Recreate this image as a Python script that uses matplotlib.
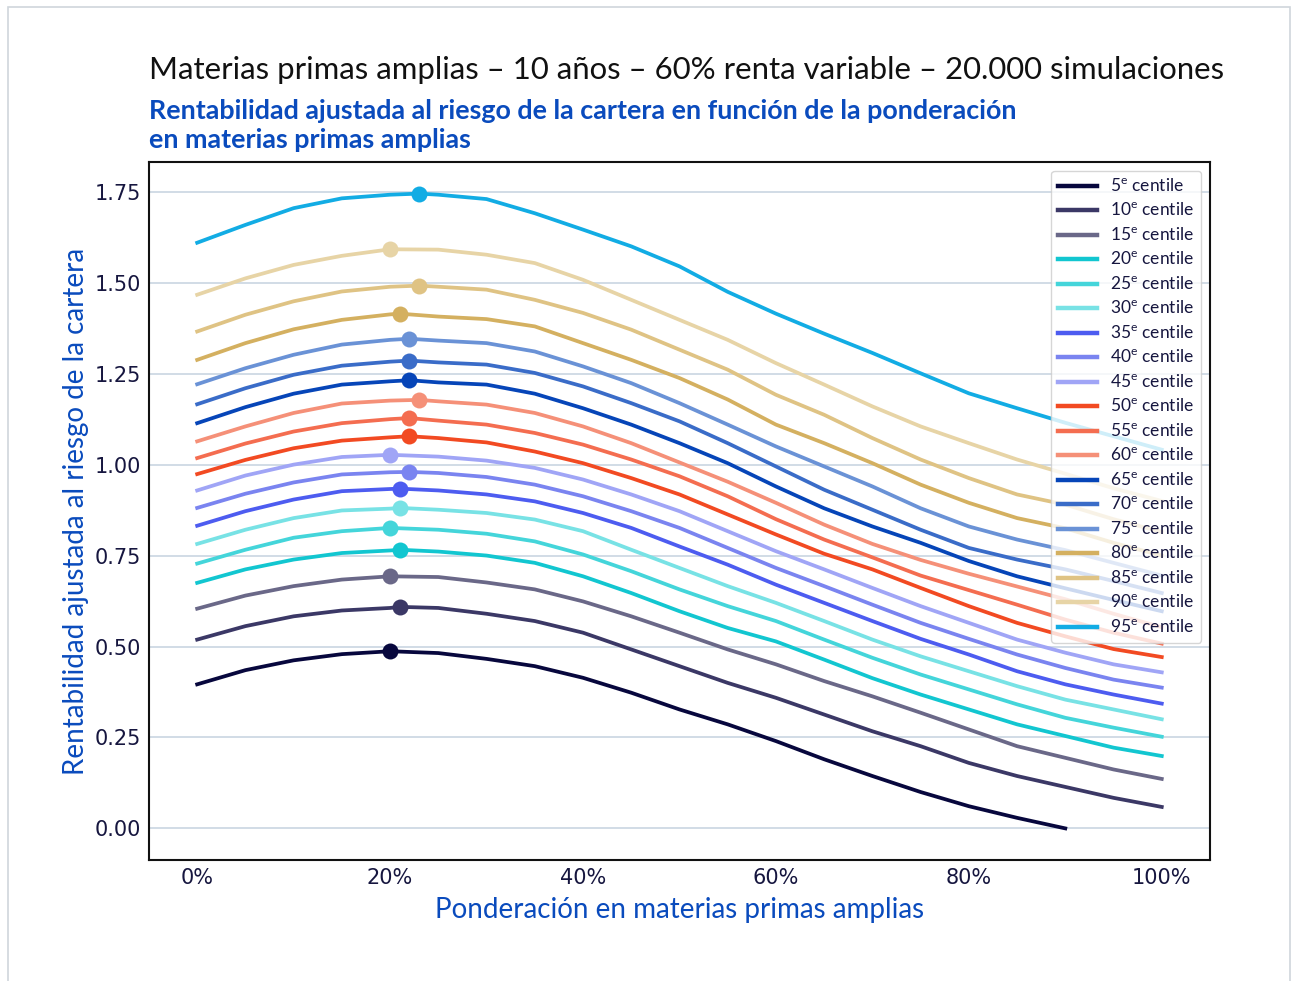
import numpy as np
import matplotlib
matplotlib.use("Agg")
import matplotlib.pyplot as plt
from matplotlib.patches import Rectangle
from matplotlib.ticker import FuncFormatter

plt.rcParams['font.family'] = ['Lato', 'DejaVu Sans']
plt.rcParams['mathtext.fontset'] = 'custom'
plt.rcParams['mathtext.rm'] = 'Lato'

# weight in broad commodities (%)
weights = [0, 5, 10, 15, 20, 25, 30, 35, 40, 45, 50, 55, 60, 65, 70, 75, 80, 85, 90, 95, 100]

centiles = [5, 10, 15, 20, 25, 30, 35, 40, 45, 50, 55, 60, 65, 70, 75, 80, 85, 90, 95]

colors = ["#07073d", "#3b3866", "#6a6888", "#12c6d0", "#44d5da", "#78e2e5",
          "#4d5cf0", "#7a84f0", "#a0a5f6", "#f24a22", "#f46d50", "#f59078",
          "#0645b8", "#3a6cc8", "#6a92d6", "#d4b060", "#dfc384", "#e7d4a6",
          "#12ace4"]

# risk-adjusted return per centile, one value per weight (5th centile stops at 90%)
values = [
    [0.396, 0.435, 0.462, 0.479, 0.487, 0.482, 0.466, 0.446, 0.414, 0.373, 0.327, 0.286, 0.240, 0.190, 0.144, 0.100, 0.061, 0.029, 0.000],
    [0.519, 0.556, 0.583, 0.599, 0.606, 0.606, 0.590, 0.570, 0.538, 0.492, 0.446, 0.400, 0.359, 0.313, 0.267, 0.226, 0.180, 0.144, 0.114, 0.084, 0.059],
    [0.604, 0.640, 0.666, 0.684, 0.693, 0.691, 0.676, 0.657, 0.624, 0.583, 0.538, 0.492, 0.451, 0.405, 0.363, 0.318, 0.272, 0.226, 0.194, 0.162, 0.136],
    [0.675, 0.712, 0.739, 0.757, 0.764, 0.761, 0.750, 0.730, 0.693, 0.647, 0.597, 0.551, 0.514, 0.464, 0.413, 0.368, 0.327, 0.286, 0.254, 0.222, 0.199],
    [0.728, 0.766, 0.799, 0.817, 0.826, 0.821, 0.810, 0.789, 0.753, 0.707, 0.657, 0.611, 0.570, 0.519, 0.469, 0.423, 0.382, 0.341, 0.304, 0.277, 0.252],
    [0.782, 0.821, 0.853, 0.874, 0.879, 0.876, 0.867, 0.849, 0.817, 0.766, 0.716, 0.666, 0.620, 0.570, 0.519, 0.473, 0.432, 0.391, 0.354, 0.327, 0.300],
    [0.832, 0.872, 0.904, 0.927, 0.933, 0.929, 0.918, 0.899, 0.867, 0.826, 0.775, 0.725, 0.670, 0.620, 0.570, 0.521, 0.478, 0.432, 0.396, 0.368, 0.343],
    [0.881, 0.920, 0.951, 0.973, 0.979, 0.977, 0.966, 0.945, 0.913, 0.872, 0.826, 0.771, 0.716, 0.666, 0.615, 0.565, 0.521, 0.478, 0.441, 0.409, 0.387],
    [0.929, 0.970, 1.000, 1.021, 1.027, 1.022, 1.011, 0.991, 0.959, 0.918, 0.872, 0.817, 0.762, 0.712, 0.661, 0.611, 0.565, 0.519, 0.483, 0.451, 0.429],
    [0.974, 1.013, 1.045, 1.066, 1.075, 1.073, 1.061, 1.036, 1.004, 0.963, 0.918, 0.863, 0.808, 0.755, 0.712, 0.661, 0.611, 0.565, 0.528, 0.493, 0.471],
    [1.018, 1.058, 1.091, 1.114, 1.125, 1.121, 1.110, 1.087, 1.055, 1.014, 0.968, 0.913, 0.850, 0.794, 0.745, 0.695, 0.655, 0.615, 0.574, 0.538, 0.508],
    [1.064, 1.105, 1.142, 1.168, 1.176, 1.174, 1.165, 1.142, 1.105, 1.059, 1.006, 0.953, 0.895, 0.835, 0.782, 0.738, 0.700, 0.665, 0.630, 0.590, 0.553],
    [1.114, 1.158, 1.195, 1.220, 1.229, 1.226, 1.220, 1.195, 1.155, 1.110, 1.059, 1.004, 0.940, 0.880, 0.830, 0.785, 0.735, 0.693, 0.660, 0.628, 0.597],
    [1.166, 1.210, 1.247, 1.272, 1.283, 1.281, 1.275, 1.252, 1.215, 1.169, 1.119, 1.059, 0.995, 0.931, 0.876, 0.821, 0.771, 0.739, 0.712, 0.680, 0.647],
    [1.221, 1.265, 1.302, 1.330, 1.343, 1.341, 1.334, 1.311, 1.270, 1.224, 1.169, 1.110, 1.050, 0.995, 0.940, 0.880, 0.830, 0.794, 0.765, 0.730, 0.695],
    [1.288, 1.334, 1.372, 1.398, 1.413, 1.407, 1.400, 1.380, 1.334, 1.288, 1.238, 1.179, 1.110, 1.059, 1.004, 0.945, 0.895, 0.853, 0.825, 0.785, 0.750],
    [1.366, 1.412, 1.449, 1.476, 1.489, 1.489, 1.481, 1.453, 1.417, 1.371, 1.316, 1.261, 1.192, 1.137, 1.073, 1.014, 0.963, 0.918, 0.890, 0.850, 0.815],
    [1.467, 1.512, 1.549, 1.574, 1.592, 1.591, 1.577, 1.554, 1.508, 1.453, 1.398, 1.343, 1.279, 1.220, 1.160, 1.105, 1.059, 1.014, 0.975, 0.935, 0.900],
    [1.610, 1.659, 1.705, 1.732, 1.742, 1.742, 1.730, 1.691, 1.646, 1.600, 1.545, 1.475, 1.415, 1.360, 1.307, 1.251, 1.196, 1.155, 1.115, 1.078, 1.041],
]

# best weight and its value for each centile
peak_weight = [20, 21, 20, 21, 20, 21, 21, 22, 20, 22, 22, 23, 22, 22, 22, 21, 23, 20, 23]
peak_value = [0.487, 0.609, 0.693, 0.766, 0.826, 0.881, 0.934, 0.980, 1.027, 1.078,
              1.128, 1.178, 1.232, 1.286, 1.346, 1.415, 1.492, 1.592, 1.745]

navy = "#16163f"
blue = "#0a4bbd"

fig = plt.figure(figsize=(12.93, 9.81), dpi=100)
ax = fig.add_axes([0.1152, 0.1233, 0.8206, 0.7116])

for c, col, ys, px, py in zip(centiles, colors, values, peak_weight, peak_value):
    xs = np.array(weights[:len(ys)], dtype=float)
    ys = np.array(ys, dtype=float)
    # put the maximum into the curve so the marker sits on it
    keep = xs != px
    xs = np.append(xs[keep], px)
    ys = np.append(ys[keep], py)
    order = np.argsort(xs)
    ax.plot(xs[order], ys[order], color=col, lw=2.7, label=r"%d$^{\mathrm{e}}$ centile" % c,
            zorder=2, solid_joinstyle="round")
    ax.plot([px], [py], "o", color=col, ms=11.5, mec="none", zorder=3)

ax.set_xlim(-5, 105)
ax.set_ylim(-0.087, 1.832)
ax.set_xticks(np.arange(0, 101, 20))
ax.xaxis.set_major_formatter(FuncFormatter(lambda v, p: "%d%%" % v))
ax.set_yticks(np.arange(0, 1.76, 0.25))
ax.yaxis.set_major_formatter(FuncFormatter(lambda v, p: "%.2f" % v))
ax.tick_params(length=0, pad=6, labelsize=15, labelcolor=navy)
for lab in ax.get_xticklabels() + ax.get_yticklabels():
    lab.set_family("DejaVu Sans")
ax.grid(axis="y", color="#c9d5e1", lw=1.2)
ax.set_axisbelow(True)
for side in ax.spines:
    ax.spines[side].set_linewidth(1.5)
    ax.spines[side].set_color("#111111")

ax.set_xlabel("Ponderación en materias primas amplias", fontsize=20, color=blue, labelpad=6)
ax.set_ylabel("Rentabilidad ajustada al riesgo de la cartera", fontsize=20, color=blue, labelpad=4)

leg = ax.legend(loc="upper right", fontsize=12.5, labelspacing=0.415, handlelength=2.2,
                handletextpad=0.8, borderpad=0.4, framealpha=0.8, edgecolor="#cccccc",
                borderaxespad=0.5)
for t in leg.get_texts():
    t.set_color(navy)
for h in leg.get_lines():
    h.set_linewidth(3.2)

fig.text(0.1152, 0.9195, "Materias primas amplias – 10 años – 60% renta variable – 20.000 simulaciones",
         fontsize=22.4, color="#111111", va="baseline")
fig.text(0.1152, 0.879, "Rentabilidad ajustada al riesgo de la cartera en función de la ponderación",
         fontsize=19.4, color=blue, weight="bold", va="baseline")
fig.text(0.1152, 0.849, "en materias primas amplias",
         fontsize=19.4, color=blue, weight="bold", va="baseline")

# light frame around the whole figure
fig.patches.append(Rectangle((0.0065, -0.01), 0.991, 1.003, transform=fig.transFigure,
                             fill=False, edgecolor="#cfd6dc", lw=1.2))

fig.savefig("out.png", dpi=100)
